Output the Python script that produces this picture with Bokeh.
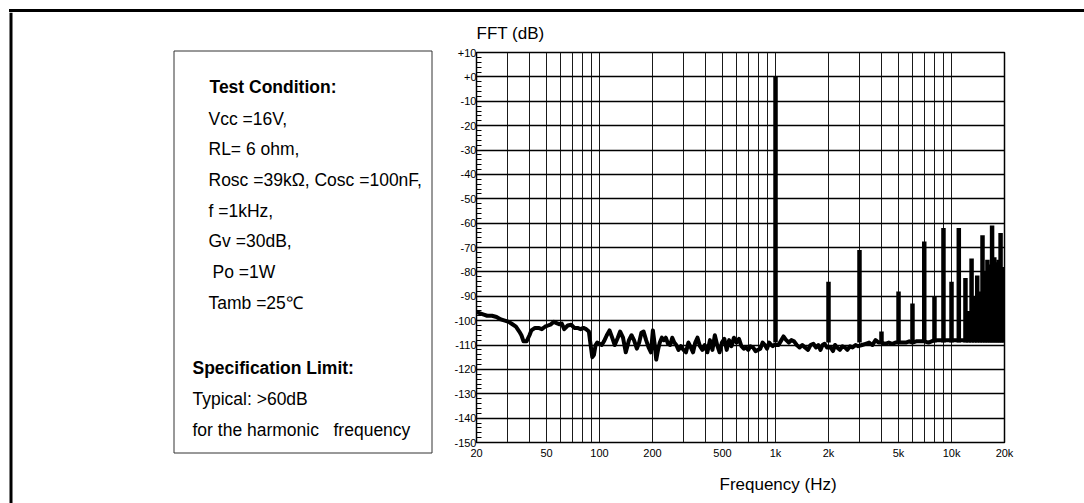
from bokeh.plotting import figure
from bokeh.models import Range1d, FixedTicker, Title, Div
from bokeh.layouts import row, column
from bokeh.embed import file_html
from bokeh.resources import INLINE
from bokeh.core.properties import value

# ---------------- data ----------------
noise_freq = [20, 21, 22, 23, 24.5, 26, 27.5, 29, 30.5, 32, 33.5, 35, 36, 37, 38.5, 40, 41, 43, 45, 47,
              49, 51, 53, 55, 57, 59, 61, 63, 66, 69, 72, 75, 78, 81, 84, 87, 89, 91, 93, 95, 97,
              100, 103, 106, 110, 114, 118, 122, 127, 131, 136, 141, 147, 152, 157, 163, 168, 173,
              178, 184, 190, 196, 201, 206, 210, 215, 220, 226, 232, 238, 245, 252, 259, 266, 273,
              281, 290, 300, 310, 320, 330, 340, 350, 360, 372, 384, 396, 410, 424, 438, 452, 466,
              481, 496, 512, 528, 545, 562, 580, 600, 620, 640, 660, 680, 700, 720, 745, 770, 795,
              820, 845, 870, 895, 920, 945, 965, 980, 1000, 1040, 1080, 1110, 1150, 1190, 1230,
              1275, 1320, 1370, 1420, 1470, 1530, 1580, 1640, 1700, 1750, 1800, 1850, 1900, 1960,
              2060, 2120, 2180, 2240, 2320, 2400, 2480, 2560, 2650, 2740, 2850, 2950, 3100, 3250,
              3400, 3550, 3700, 3850, 4000, 4200, 4400, 4600, 4800, 5000, 5250, 5500, 5750, 6000,
              6300, 6600, 7000, 7400, 7700, 8000, 8400, 8700, 9000, 9400, 9700, 10000, 10400,
              10700, 11000, 11400, 11700, 12000, 12500, 13000, 13500, 14000, 14500, 15000, 15500,
              16000, 16500, 17000, 17500, 18000, 18500, 19000, 19500, 20000]
noise_db = [-96.5, -97, -97.5, -98, -98, -98.5, -99.5, -100, -100.5, -101.5, -102.5, -104.5, -106, -108.5,
            -108.5, -106, -104, -103, -103, -103.5, -102.5, -102, -101.5, -100.5, -101, -101.5, -101.2,
            -103.5, -102, -101.7, -103, -103, -103.5, -103, -103.5, -104.5, -110, -115, -114, -110, -109,
            -109.5, -110, -108.5, -106, -104, -107, -110, -107, -104.5, -107, -113, -108, -106, -108,
            -111.5, -109, -105, -104.5, -108, -111, -113, -104, -110, -116, -112, -109, -107, -108, -107,
            -109.5, -110, -107, -109, -110, -112, -110.5, -112, -113, -109, -111, -113, -109, -107,
            -110.5, -112, -110, -113, -108, -112, -106, -110, -113, -109, -107.5, -112, -108, -110.5,
            -107, -109, -107.5, -110.5, -111.5, -111, -112, -110.5, -111, -112.5, -112, -111.5, -109,
            -110, -111.5, -109, -110, -110.5, -110, -110, -110, -108, -106.5, -108, -109, -108, -108.5,
            -110, -111, -110, -111, -112, -110, -109.5, -111, -110, -112, -110, -109.5, -111, -111,
            -112.5, -110, -111, -112, -110.5, -111, -112, -110.5, -111, -110, -110.5, -110, -109.5,
            -109, -110, -108, -109, -109, -109.5, -109, -109.5, -109, -109, -109, -109, -108.5, -109,
            -108.5, -108.5, -108.5, -109, -108.5, -108, -108, -108, -108, -108, -108, -108, -108,
            -108, -108, -108, -108, -108, -108, -108, -108, -108, -108, -108, -108, -108, -108, -108,
            -108, -108, -108, -108, -108]

peak_freq = [1000, 2000, 3000, 4000, 5000, 6000, 7000, 8000, 9000, 10000, 11000, 12000, 12500, 13000,
             13500, 14000, 14500, 15000, 15500, 16000, 16500, 17000, 17500, 18000, 18500, 19000,
             19500, 20000]
peak_db = [0, -84, -71, -104.5, -88, -93, -67.5, -90, -62, -84, -62, -82.5, -96, -74.5, -90, -81.5,
           -88, -65, -80, -75, -77, -61, -74, -76, -75, -64, -78, -81]

x_tick_values = [20, 50, 100, 200, 500, 1000, 2000, 5000, 10000, 20000]
x_tick_labels = ["20", "50", "100", "200", "500", "1k", "2k", "5k", "10k", "20k"]
x_grid_values = [20, 30, 40, 50, 60, 70, 80, 90, 100, 200, 300, 400, 500, 600, 700, 800, 900,
                 1000, 2000, 3000, 4000, 5000, 6000, 7000, 8000, 9000, 10000, 20000]
y_tick_values = [-150, -140, -130, -120, -110, -100, -90, -80, -70, -60, -50, -40, -30, -20, -10, 0, 10]
y_tick_labels = ["-150", "-140", "-130", "-120", "-110", "-100", "-90", "-80", "-70", "-60", "-50",
                 "-40", "-30", "-20", "-10", "+0", "+10"]
y_minor_values = list(range(-150, 11, 2))

heading_texts = ["Test Condition:", "Specification Limit:"]
condition_texts = ["Vcc =16V,", "RL= 6 ohm,", "Rosc =39kΩ, Cosc =100nF,", "f =1kHz,",
                   "Gv =30dB,", "Po =1W", "Tamb =25℃"]
limit_texts = ["Typical: >60dB", "for the harmonic", "frequency"]

FONT = "Liberation Sans"

# ---------------- left panel (text box) ----------------
L_W, R_W, H = 448, 628, 491
q = figure(width=L_W, height=H, x_range=Range1d(0, L_W), y_range=Range1d(H, 0),
           x_axis_location=None, y_axis_location=None, min_border=0,
           output_backend="svg", toolbar_location=None)
q.frame_align = False
q.grid.visible = False
q.outline_line_color = None
q.segment(x0=[10.5], y0=[0], x1=[10.5], y1=[H], line_color="black", line_width=3)
q.quad(left=[173.5], right=[431.5], top=[38.5], bottom=[440.5], fill_color=None,
       line_color="#333333", line_width=1)
q.text(x=[209, 192], y=[74, 355], text=heading_texts, text_font=value(FONT),
       text_font_size=value("17.5px"), text_font_style="bold", text_baseline="middle",
       text_color="black")
q.text(x=[208, 208, 208, 208, 208, 212, 208], y=[106, 136, 167, 198, 228, 259, 290],
       text=condition_texts, text_font=value(FONT), text_font_size=value("17.5px"),
       text_baseline="middle", text_color="black")
q.text(x=[192, 192, 333], y=[386, 417, 417], text=limit_texts, text_font=value(FONT),
       text_font_size=value("17.5px"), text_baseline="middle", text_color="black")

# ---------------- right panel (FFT) ----------------
p = figure(x_axis_type="log", x_range=Range1d(20, 20000), y_range=Range1d(-150, 10),
           frame_width=528, frame_height=390, min_border_left=28, min_border_right=R_W - 28 - 528,
           min_border_top=40, min_border_bottom=H - 40 - 390, output_backend="svg",
           toolbar_location=None)
p.frame_align = False
p.outline_line_color = "black"
p.outline_line_width = 1.5

p.xaxis.ticker = FixedTicker(ticks=x_tick_values)
p.xaxis.major_label_overrides = dict(zip(x_tick_values, x_tick_labels))
p.xaxis.major_tick_in = 0
p.xaxis.major_tick_out = 0
p.xaxis.minor_tick_in = 0
p.xaxis.minor_tick_out = 0
p.xaxis.major_label_standoff = 4
p.xaxis.axis_line_color = "black"

p.yaxis.ticker = FixedTicker(ticks=y_tick_values, minor_ticks=y_minor_values)
p.yaxis.major_label_overrides = dict(zip(y_tick_values, y_tick_labels))
p.yaxis.major_tick_in = 5
p.yaxis.major_tick_out = 0
p.yaxis.minor_tick_in = 5
p.yaxis.minor_tick_out = 0
p.yaxis.major_label_standoff = 0
p.yaxis.axis_line_color = "black"
p.yaxis.minor_tick_line_color = "black"

for ax in (p.xaxis, p.yaxis):
    ax.major_label_text_font = FONT
    ax.major_label_text_font_size = "11px"
    ax.major_label_text_color = "black"

p.xgrid.ticker = FixedTicker(ticks=x_grid_values)
p.xgrid.grid_line_color = "#1a1a1a"
p.xgrid.grid_line_width = 1
p.ygrid.ticker = FixedTicker(ticks=y_tick_values)
p.ygrid.grid_line_color = "#000000"
p.ygrid.grid_line_width = 1.3

p.title.text = "FFT (dB)"
p.title.align = "left"
p.title.offset = 0
p.title.standoff = 19
p.title.text_font = FONT
p.title.text_font_size = "17px"
p.title.text_font_style = "normal"
p.title.text_color = "black"

p.add_layout(Title(text="Frequency (Hz)", align="left", offset=243, standoff=23,
                   text_font=FONT, text_font_size="17px", text_font_style="normal",
                   text_color="black"), "below")

p.segment(x0=peak_freq, y0=-109, x1=peak_freq, y1=peak_db, line_color="black", line_width=4.5)
p.line(noise_freq, noise_db, line_color="black", line_width=4, line_join="round")

top_rule = Div(text="", width=1075, height=3, margin=(9, 0, 0, 9),
               styles={"background-color": "black"})
layout = column(top_rule, row(q, p))

open("out.html", "w").write(file_html(layout, INLINE))
